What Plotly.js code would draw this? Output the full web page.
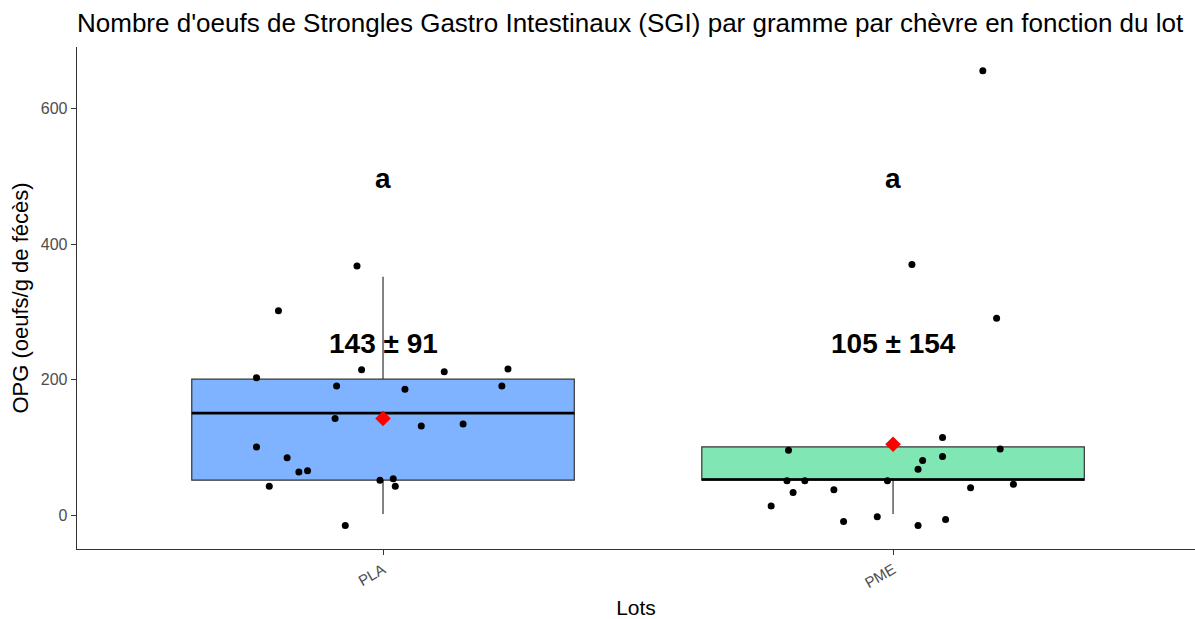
<!DOCTYPE html>
<html>
<head>
<meta charset="utf-8">
<script src="https://cdn.plot.ly/plotly-3.0.1.min.js"></script>
<style>
  html, body { margin: 0; padding: 0; background: #fff; }
  #chart { width: 1195px; height: 619px; }
</style>
</head>
<body>
<div id="chart"></div>
<script>
// ---- Data ----
const categories = ['PLA', 'PME'];
const catPositions = [1, 2];

const plaValues = [368, 302, 203, 215, 212, 216, 191, 186, 191, 143, 132, 135, 101, 85, 64, 66, 52, 54, 43, 43, -15];
const plaJitter = [-0.051, -0.205, -0.248, -0.042, 0.120, 0.245, -0.091, 0.043, 0.233, -0.094, 0.075, 0.157, -0.248, -0.188, -0.165, -0.148, -0.006, 0.020, 0.024, -0.223, -0.074];

const pmeValues = [656, 370, 291, 115, 98, 96, 87, 81, 68, 51, 51, 51, 46, 34, 38, 41, 14, -2, -9, -6, -15];
const pmeJitter = [0.176, 0.037, 0.203, 0.097, 0.210, -0.205, 0.097, 0.058, 0.049, -0.208, -0.173, -0.011, 0.236, -0.196, -0.116, 0.152, -0.239, -0.031, -0.097, 0.103, 0.049];

// box statistics
const q1 = [52, 52];
const medians = [151, 53];
const q3 = [201, 101];
const lowerFence = [2, 2];
const upperFence = [352, 101];

const means = [143, 105];
const sds = [91, 154];
const sigLetters = ['a', 'a'];
const letterY = [497, 497];
const meanLabelY = [253, 253];

const boxColors = ['#80B3FF', '#80E6B3'];

// ---- Traces ----
const boxWidth = 0.75;
const traces = [];

categories.forEach((c, i) => {
  traces.push({
    type: 'box',
    x: [catPositions[i]],
    q1: [q1[i]],
    median: [medians[i]],
    q3: [q3[i]],
    lowerfence: [lowerFence[i]],
    upperfence: [upperFence[i]],
    width: boxWidth,
    fillcolor: boxColors[i],
    line: { color: '#333333', width: 1.2 },
    whiskerwidth: 0,
    boxpoints: false,
    hoverinfo: 'skip',
    showlegend: false
  });
  // thicker median line (ggplot style)
  traces.push({
    type: 'scatter',
    mode: 'lines',
    x: [catPositions[i] - boxWidth / 2, catPositions[i] + boxWidth / 2],
    y: [medians[i], medians[i]],
    line: { color: '#000000', width: 2.6 },
    hoverinfo: 'skip',
    showlegend: false
  });
});

const groups = [
  { values: plaValues, jitter: plaJitter },
  { values: pmeValues, jitter: pmeJitter }
];

groups.forEach((g, i) => {
  traces.push({
    type: 'scatter',
    mode: 'markers',
    x: g.jitter.map(d => catPositions[i] + d),
    y: g.values,
    marker: { color: '#000000', size: 7 },
    hoverinfo: 'skip',
    showlegend: false
  });
});

// mean diamonds
traces.push({
  type: 'scatter',
  mode: 'markers',
  x: catPositions,
  y: means,
  marker: { color: '#FF0000', size: 12, symbol: 'diamond' },
  hoverinfo: 'skip',
  showlegend: false
});

// ---- Annotations ----
const annotations = [];
categories.forEach((c, i) => {
  annotations.push({
    x: catPositions[i], y: letterY[i], xref: 'x', yref: 'y',
    text: sigLetters[i], showarrow: false,
    xanchor: 'center', yanchor: 'middle',
    font: { family: 'Liberation Sans, Arial, sans-serif', size: 28, color: '#000000', weight: 'bold' }
  });
  annotations.push({
    x: catPositions[i], y: meanLabelY[i], xref: 'x', yref: 'y',
    text: means[i] + ' ± ' + sds[i], showarrow: false,
    xanchor: 'center', yanchor: 'middle',
    font: { family: 'Liberation Sans, Arial, sans-serif', size: 28, color: '#000000', weight: 'bold' }
  });
});

const layout = {
  width: 1195,
  height: 619,
  margin: { l: 77, r: 0, t: 47, b: 70 },
  paper_bgcolor: '#FFFFFF',
  plot_bgcolor: '#FFFFFF',
  font: { family: 'Liberation Sans, Arial, sans-serif', color: '#000000' },
  title: {
    text: "Nombre d'oeufs de Strongles Gastro Intestinaux (SGI) par gramme par chèvre en fonction du lot",
    x: 0, xref: 'paper', xanchor: 'left',
    y: 1 - 23 / 619, yref: 'container', yanchor: 'middle',
    font: { family: 'Liberation Sans, Arial, sans-serif', size: 26, color: '#000000' }
  },
  xaxis: {
    range: [0.4, 2.592],
    tickmode: 'array',
    tickvals: catPositions,
    ticktext: categories,
    tickangle: -30,
    showgrid: false,
    zeroline: false,
    showline: true,
    linecolor: '#333333',
    linewidth: 1.3,
    ticks: 'outside',
    ticklen: 5,
    tickcolor: '#333333',
    tickfont: { size: 15, color: '#4D4D4D' },
    title: { text: 'Lots', font: { size: 21, color: '#000000' }, standoff: 12 }
  },
  yaxis: {
    range: [-49.5, 691],
    tickvals: [0, 200, 400, 600],
    showgrid: false,
    zeroline: false,
    showline: true,
    linecolor: '#333333',
    linewidth: 1.3,
    ticks: 'outside',
    ticklen: 5,
    tickcolor: '#333333',
    tickfont: { size: 16, color: '#4D4D4D' },
    title: { text: 'OPG (oeufs/g de fécès)', font: { size: 22, color: '#000000' }, standoff: 6 }
  },
  annotations: annotations,
  showlegend: false
};

Plotly.newPlot('chart', traces, layout, { displayModeBar: false, staticPlot: true });
</script>
</body>
</html>
